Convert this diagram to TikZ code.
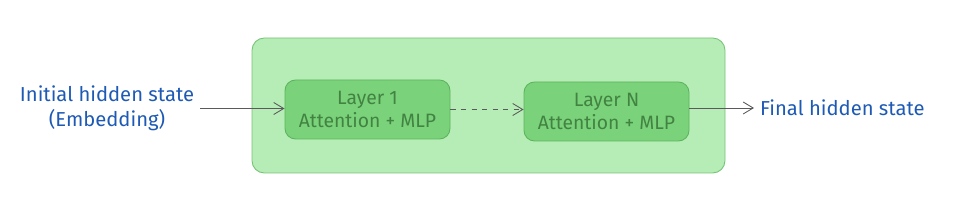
\documentclass[tikz,border=0pt]{standalone}
\usepackage{fontspec}
\setmainfont{Fira Sans}
\usepackage{tikz}
\usepackage{xcolor}
\usetikzlibrary{arrows.meta, positioning, calc}
\definecolor{cOuterFill}{RGB}{182,236,182}
\definecolor{cOuterLine}{RGB}{118,196,118}
\definecolor{cLayerFill}{RGB}{122,211,122}
\definecolor{cLayerLine}{RGB}{92,180,92}
\definecolor{cLayerText}{RGB}{66,130,66}
\definecolor{cLabel}{RGB}{30,90,180}
\definecolor{cArrow}{RGB}{90,90,90}
\tikzset{
	stack/.style    ={rectangle, rounded corners=7pt, draw=cOuterLine, fill=cOuterFill, line width=0.5pt},
	layerbox/.style ={rectangle, rounded corners=6pt, minimum width=3.3cm, minimum height=1.18cm, align=center, draw=cLayerLine, fill=cLayerFill, text=cLayerText, line width=0.5pt, font=\fontsize{11}{13}\selectfont},
	iolabel/.style  ={align=center, text=cLabel, font=\fontsize{11.5}{14}\selectfont},
	flow/.style     ={-{Straight Barb[length=2mm, width=2.4mm]}, draw=cArrow, line width=0.5pt},
}
\begin{document}
\begin{tikzpicture}
	\useasboundingbox (0,0) rectangle (19.2,4.14);
	\draw[stack] (5.04,0.68) rectangle (14.5,3.38);
	\node[layerbox] (layerone) at (7.35,1.95) {Layer 1\\Attention + MLP};
	\node[layerbox] (layern) at (12.13,1.91) {Layer N\\Attention + MLP};
	\node[iolabel] (initial) at (2.14,1.97) {Initial hidden state\\(Embedding)};
	\node[iolabel, anchor=west] (final) at (15.08,1.98) {Final hidden state};
	\draw[flow] (initial.east) -- (layerone.west |- initial.east);
	\draw[flow, dashed] (layerone.east) -- (layern.west |- layerone.east);
	\draw[flow] (layern.east |- final.west) -- (final.west);
\end{tikzpicture}
\end{document}
